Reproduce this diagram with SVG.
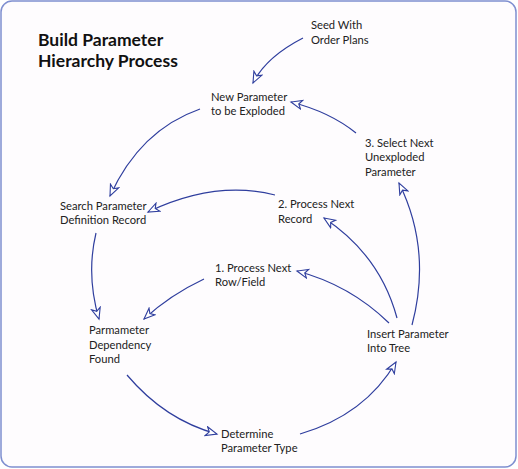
<svg xmlns="http://www.w3.org/2000/svg" width="518" height="469" viewBox="0 0 518 469">
<style>
text{font-family:Lato,"Liberation Sans",sans-serif;font-size:11.2px;fill:#222}
.title{font-size:17.5px;font-weight:bold;fill:#111}
.c{fill:none;stroke:#2f3e9e;stroke-width:1.2}
</style>
<defs>
<marker id="ah" markerUnits="userSpaceOnUse" markerWidth="14" markerHeight="12" refX="12" refY="5.5" orient="auto">
<path d="M1,1 L12,5.5 L1,10 L4,5.5 Z" fill="#fff" stroke="#2f3e9e" stroke-width="1.1"/>
</marker>
</defs>
<rect x="1" y="1" width="515" height="466" rx="11" fill="#fefcfe" stroke="#7f8fd0" stroke-width="1.5"/>
<text class="title" x="38" y="46">Build Parameter</text>
<text class="title" x="38" y="67">Hierarchy Process</text>
<g id="connectors">
<path class="c" d="M303,38 Q266,57 253,83" marker-end="url(#ah)"/>
<path class="c" d="M356,133 Q330,112 291,102" marker-end="url(#ah)"/>
<path class="c" d="M412,325 Q432,250 399,183" marker-end="url(#ah)"/>
<path class="c" d="M397,318 Q380,255 324,218" marker-end="url(#ah)"/>
<path class="c" d="M389,323 Q350,285 297,271" marker-end="url(#ah)"/>
<path class="c" d="M275,195 Q215,180 148,212" marker-end="url(#ah)"/>
<path class="c" d="M204,279 Q170,295 144,319" marker-end="url(#ah)"/>
<path class="c" d="M96,233 Q86,275 99,319" marker-end="url(#ah)"/>
<path class="c" d="M200,109 Q140,130 110,196" marker-end="url(#ah)"/>
<path class="c" d="M127,375 Q165,420 217,434" marker-end="url(#ah)"/>
<path class="c" d="M300,434 Q365,415 396,362" marker-end="url(#ah)"/>
</g>
<g id="seed"><text x="311" y="29">Seed With</text><text x="311" y="44">Order Plans</text></g>
<g id="newparam"><text x="211" y="101">New Parameter</text><text x="211" y="115">to be Exploded</text></g>
<g id="select"><text x="365" y="147">3. Select Next</text><text x="365" y="161">Unexploded</text><text x="365" y="176">Parameter</text></g>
<g id="search"><text x="60" y="210">Search Parameter</text><text x="60" y="224">Definition Record</text></g>
<g id="record"><text x="278" y="208">2. Process Next</text><text x="278" y="223">Record</text></g>
<g id="row"><text x="215" y="272">1. Process Next</text><text x="215" y="286">Row/Field</text></g>
<g id="dependency"><text x="89" y="334">Parmameter</text><text x="89" y="349">Dependency</text><text x="89" y="363">Found</text></g>
<g id="insert"><text x="367" y="338">Insert Parameter</text><text x="367" y="352">Into Tree</text></g>
<g id="determine"><text x="221" y="438">Determine</text><text x="221" y="452">Parameter Type</text></g>
</svg>
